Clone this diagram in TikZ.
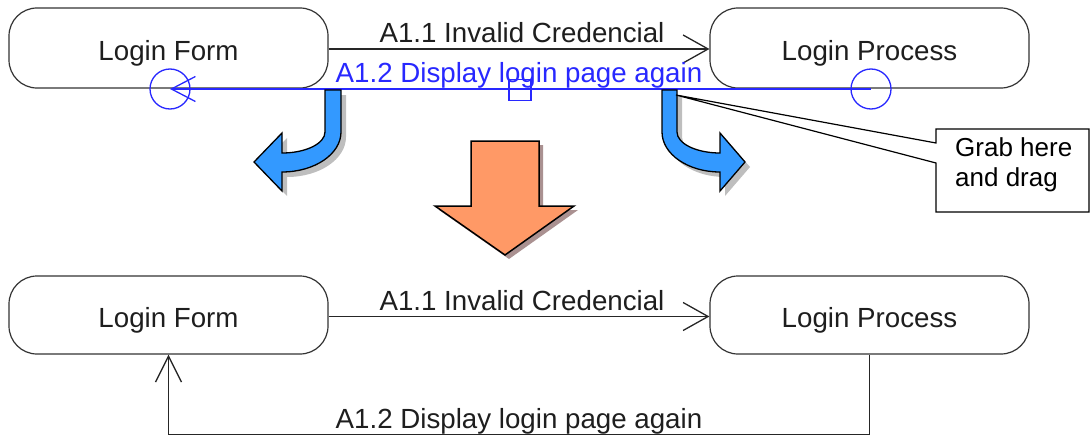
\documentclass[tikz,border=0pt]{standalone}
\usepackage{fontspec}
\setmainfont{Liberation Sans}
\usetikzlibrary{arrows.meta}

\definecolor{selblue}{RGB}{40,40,255}
\definecolor{bendblue}{RGB}{51,153,255}
\definecolor{bigorange}{RGB}{255,153,102}
\definecolor{shadowgray}{RGB}{190,190,190}
\definecolor{shadowbrown}{RGB}{170,145,145}
\definecolor{ink}{RGB}{30,30,30}

\begin{document}
\begin{tikzpicture}[x=1pt,y=-1pt,
  lbl/.style={font=\fontsize{27.7}{32}\selectfont, inner sep=0pt},
  state/.style={lbl, draw=black!80, line width=1.2pt, rounded corners=28pt,
    minimum width=319pt, minimum height=80pt, text=ink,
    text height=25pt, text depth=0pt},
  conn/.style={draw=black!85, line width=1.3pt},
  openhead/.style={-{Straight Barb[length=25pt,width=28pt,line width=1.3pt]}},
  selline/.style={draw=selblue, line width=2pt},
  handle/.style={draw=selblue, line width=1.3pt, fill=none, inner sep=0pt},
  bendshadow/.style={fill=shadowgray},
  bendarrow/.style={fill=bendblue, draw=black, line width=1.3pt, line join=miter},
  bigarrow/.style={fill=bigorange, draw=black, line width=1.5pt, line join=miter},
  calloutbox/.style={fill=white, draw=black, line width=1.2pt},
  callouttext/.style={font=\fontsize{26}{30}\selectfont, align=left,
    anchor=north west, inner sep=0pt, text=black},
]
\useasboundingbox (0,0) rectangle (1091,436);

% ---------- upper state: connector being edited ----------
\node[state] (lf1) at (168.5,48) {Login Form};
\node[state] (lp1) at (869.5,48) {Login Process};
\draw[conn,openhead] (lf1.east) ++(0,1) coordinate (a1s) -- (a1s -| lp1.west);
\node[lbl, text=ink, anchor=base] (a11top) at (522,42) {A1.1 Invalid Credencial};

% selected straight connector with its handles
\coordinate (selL) at (170,89);
\coordinate (selR) at (871,89);
\draw[selline, {Straight Barb[length=24pt,width=25pt,line width=1.3pt]}-] (selL) -- (selR);
\node[handle, circle, minimum size=40pt] (hl) at (selL) {};
\node[handle, circle, minimum size=40pt] (hr) at (selR) {};
\node[handle, rectangle, minimum width=22pt, minimum height=21pt] (hm) at (520,90) {};
\node[lbl, text=selblue, anchor=base] (a12top) at (519,82) {A1.2 Display login page again};

% ---------- curved drag arrows ----------
\foreach \dx/\dy/\sty in {5/5/bendshadow, 0/0/bendarrow} {
  \begin{scope}[shift={(\dx,\dy)}]
    \path[\sty] (325,90) -- (341,90) -- (341,132)
      arc[start angle=0, end angle=90, x radius=59, y radius=40]
      -- (282,191) -- (254,162) -- (282,133) -- (282,153)
      arc[start angle=90, end angle=0, x radius=43, y radius=21]
      -- cycle;
    \path[\sty] (662,90) -- (677,90) -- (677,132)
      arc[start angle=180, end angle=90, x radius=43, y radius=21]
      -- (720,133) -- (745,162) -- (720,191) -- (720,172)
      arc[start angle=90, end angle=180, x radius=58, y radius=40]
      -- cycle;
  \end{scope}
}

% ---------- callout ----------
\coordinate (tip) at (676,95);
\draw[calloutbox]
  (936,129) -- (1089,129) -- (1089,212) -- (936,212) -- (936,163) -- (tip)
  -- (936,143) -- cycle;
\node[callouttext] (grab) at (955,137) {Grab here\\and drag};

% ---------- big transition arrow ----------
\path[fill=shadowbrown] (475,145) -- (543,145) -- (543,210) -- (578,210)
  -- (509,259) -- (439,210) -- (475,210) -- cycle;
\path[bigarrow] (471,141) -- (539,141) -- (539,206) -- (574,206)
  -- (505,255) -- (435,206) -- (471,206) -- cycle;

% ---------- lower state: connector re-routed ----------
\node[state, minimum height=78pt] (lf2) at (168.5,315) {Login Form};
\node[state, minimum height=78pt] (lp2) at (869.5,315) {Login Process};
\draw[conn,openhead] (lf2.east) ++(0,1.5) coordinate (b1s) -- (b1s -| lp2.west);
\node[lbl, text=ink, anchor=base] (a11bot) at (522,310) {A1.1 Invalid Credencial};
\draw[conn,-{Straight Barb[length=26pt,width=26pt,line width=1.3pt]}]
  (lp2.south) -- ++(0,80) -| (lf2.south);
\node[lbl, text=ink, anchor=base] (a12bot) at (519,428) {A1.2 Display login page again};
\end{tikzpicture}
\end{document}
